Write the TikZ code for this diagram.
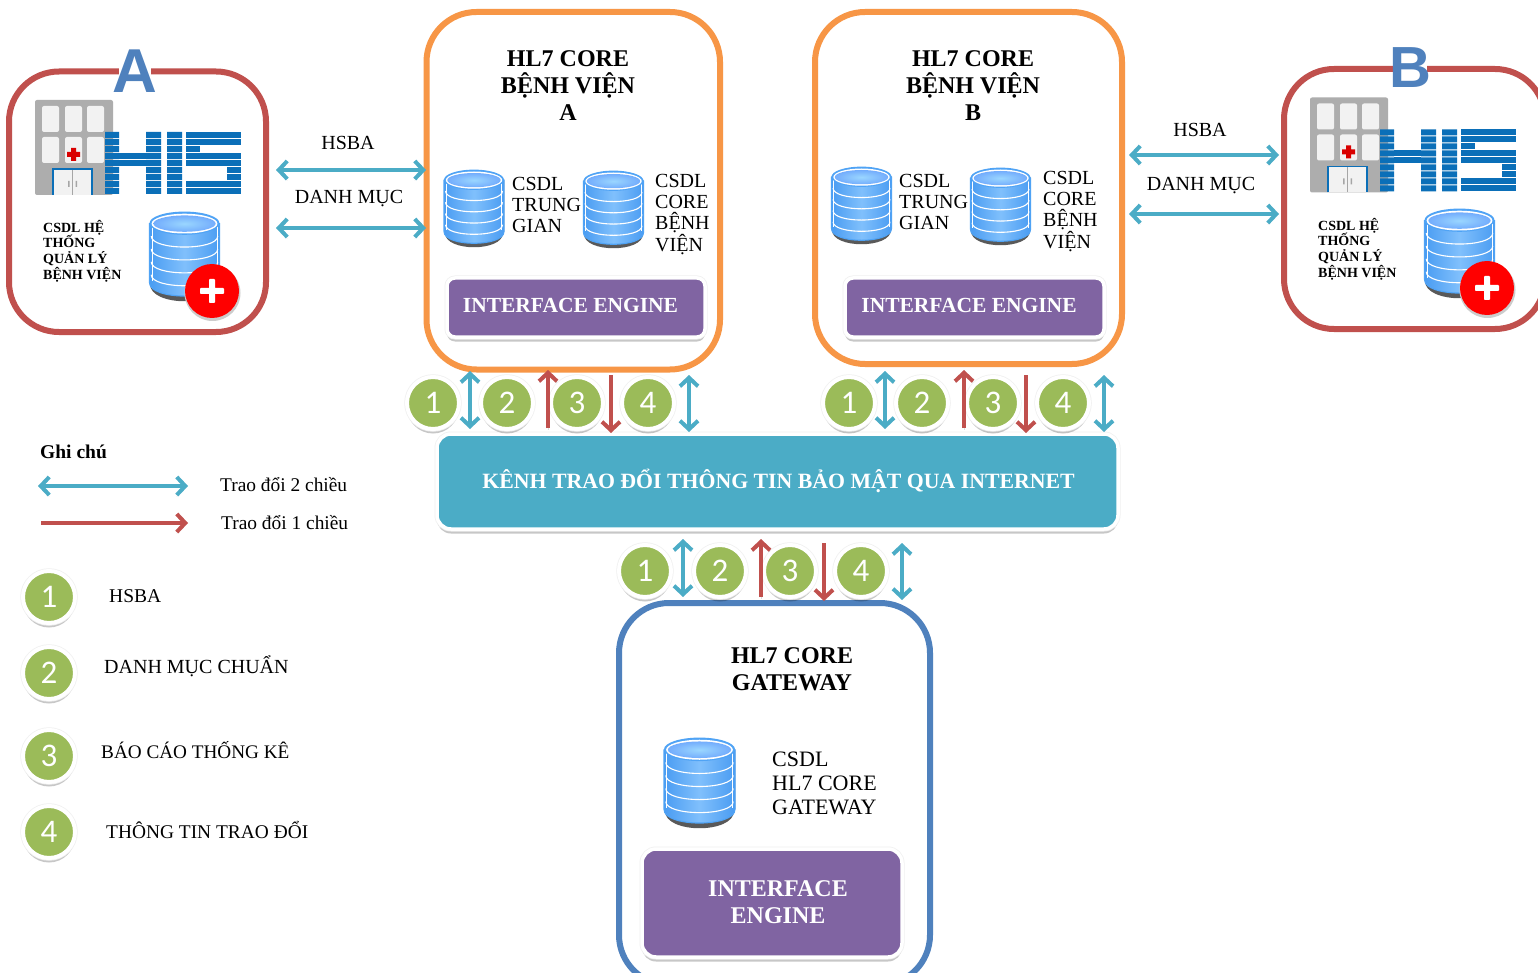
\documentclass[tikz,border=0pt]{standalone}
\usepackage{fontspec}
\setmainfont{Liberation Serif}
\newfontfamily\digitfont{Carlito}
\newfontfamily\letterfont{Liberation Sans}
\usetikzlibrary{arrows.meta,shadows}
\definecolor{frameRed}{HTML}{C0504D}
\definecolor{frameOrange}{HTML}{F79646}
\definecolor{frameBlue}{HTML}{4F81BD}
\definecolor{teal}{HTML}{4BACC6}
\definecolor{violet}{HTML}{8064A2}
\definecolor{olive}{HTML}{9BBB59}
\definecolor{hisBlue}{HTML}{0B6FB8}
\definecolor{dbRim}{HTML}{4FA3F5}
\definecolor{dbDark}{HTML}{4A9CF2}
\definecolor{dbLight}{HTML}{80C0FC}
\definecolor{dbTop}{HTML}{9AD6FF}
\newcommand{\fs}[2]{\fontsize{#1}{#2}\selectfont}
\tikzset{
  softshadow/.style={drop shadow={shadow xshift=0pt,shadow yshift=-4.5pt,fill=black,opacity=.22}},
  framebox/.style={draw=#1,line width=6pt,fill=white,rounded corners=50pt,inner sep=0pt},
  panel/.style={draw=white,line width=3.5pt,fill=#1,inner sep=0pt,softshadow,
    preaction={draw=black!6,line width=5pt}},
  badge/.style={circle,draw=white,line width=4pt,fill=olive,text=white,minimum size=52pt,inner sep=0pt,
    font=\digitfont\fs{33}{33},softshadow,preaction={draw=black!6,line width=5.5pt}},
  lbl/.style={inner sep=0pt,align=left,text=black},
  hdr/.style={inner sep=0pt,align=center,text=black,font=\bfseries\fs{24}{27}},
  ietext/.style={inner sep=0pt,align=center,text=white,font=\bfseries\fs{21.5}{27}},
  dbtext/.style={lbl,anchor=north west,font=\fs{20}{21.2}},
  hisnote/.style={lbl,anchor=north west,font=\bfseries\fs{14}{15.6}},
  plain/.style={inner sep=0pt,text=black,font=\fs{20}{22}},
  twoway/.style={draw=teal,line width=4pt,{Straight Barb[length=8.5pt,width=18pt]}-{Straight Barb[length=8.5pt,width=18pt]},
    preaction={draw=black,opacity=.13,transform canvas={yshift=-1.5pt}}},
  oneway/.style={draw=frameRed,line width=4pt,-{Straight Barb[length=8.5pt,width=18pt]},
    preaction={draw=black,opacity=.13,transform canvas={yshift=-1.5pt}}},
}
% database icon: centre x, top y, width, height
\newcommand{\dbicon}[4]{%
  \begin{scope}[shift={(#1,#2)},x=#3pt/2,y=-#4pt]
    \fill[black!65] (-.98,.84) .. controls (-.98,1.1) and (.98,1.1) .. (.98,.84) -- cycle;
    \fill[left color=dbDark,right color=dbDark,middle color=dbLight]
      (-1,.13) -- (-1,.82) .. controls (-1,1.03) and (1,1.03) .. (1,.82) -- (1,.13) -- cycle;
    \foreach \c in {.28,.43,.58,.73}
      \draw[white,line width=1.1pt] (-.95,\c) .. controls (-.95,\c+.17) and (.95,\c+.17) .. (.95,\c);
    \draw[dbRim,line width=1.1pt] (-1,.13) -- (-1,.82) .. controls (-1,1.03) and (1,1.03) .. (1,.82) -- (1,.13);
    \draw[white,line width=.9pt] (-.93,.16) -- (-.93,.8) (.93,.16) -- (.93,.8);
    \fill[dbRim] (0,.13) ellipse [x radius=1,y radius=.135];
    \fill[white] (0,.135) ellipse [x radius=.94,y radius=.115];
    \shade[inner color=dbTop,outer color=dbLight!90!blue] (0,.135) ellipse [x radius=.89,y radius=.095];
  \end{scope}}
% red medical badge
\newcommand{\redplus}[2]{%
  \begin{scope}[shift={(#1,#2)}]
    \fill[black!20] (.5,2) circle (28);
    \fill[red] (0,0) circle (27);
    \fill[white,rounded corners=.8pt] (-12,-3) rectangle (12,3) (-3,-12) rectangle (3,12);
  \end{scope}}
% HIS logo, drawn relative to the position of the A logo
\newcommand{\hislogo}[2]{%
  \begin{scope}[shift={(#1,#2)}]
    \fill[black!32,rounded corners=2pt] (35,100) rectangle (113,195);
    \foreach \wy in {106,137}
      \foreach \wx in {42,65,87}
        \fill[black!5,rounded corners=2pt] (\wx,\wy) rectangle +(17,26);
    \fill[black!5] (53,169) rectangle (92,195);
    \draw[hisBlue,line width=1.6pt] (53,195) -- (53,169) -- (92,169) -- (92,195);
    \draw[black!35,line width=1.2pt] (72.5,170) -- (72.5,195);
    \fill[black!35] (68,181) rectangle (69.5,187) (75.5,181) rectangle (77,187);
    \fill[red!85!black] (67,152) rectangle (80,157) (71,148) rectangle (76,161);
    \foreach \r in {0,...,8}{
      \pgfmathsetmacro{\ya}{132+7*\r}
      \fill[hisBlue] (105,\ya) rectangle (119,\ya+5.8)
                     (146,\ya) rectangle (161,\ya+5.8)
                     (167,\ya) rectangle (182,\ya+5.8);
    }
    \foreach \r in {3,4}{
      \pgfmathsetmacro{\ya}{132+7*\r}
      \fill[hisBlue] (119,\ya) rectangle (146,\ya+5.8);
    }
    \foreach \r in {0,1,3,4,7,8}{
      \pgfmathsetmacro{\ya}{132+7*\r}
      \fill[hisBlue] (186,\ya) rectangle (241,\ya+5.8);
    }
    \foreach \r in {2}{
      \pgfmathsetmacro{\ya}{132+7*\r}
      \fill[hisBlue] (186,\ya) rectangle (200,\ya+5.8);
    }
    \foreach \r in {5,6}{
      \pgfmathsetmacro{\ya}{132+7*\r}
      \fill[hisBlue] (227,\ya) rectangle (241,\ya+5.8);
    }
  \end{scope}}
\begin{document}
\begin{tikzpicture}[x=1pt,y=-1pt]
\useasboundingbox (0,0) rectangle (1538,973);
\clip (0,0) rectangle (1538,973);
\fill[white] (0,0) rectangle (1538,973);

% frames
\node[framebox=frameRed,minimum width=257pt,minimum height=260.5pt] (hisA) at (137.5,201.75) {};
\node[framebox=frameOrange,minimum width=293.5pt,minimum height=357.5pt] (coreA) at (573.25,190.75) {};
\node[framebox=frameOrange,minimum width=307pt,minimum height=352pt] (coreB) at (968.5,188) {};
\node[framebox=frameRed,minimum width=261pt,minimum height=260pt] (hisB) at (1414.5,199) {};
\node[framebox=frameBlue,minimum width=311pt,minimum height=382pt] (coreG) at (774.5,794) {};

% logo letters
\fill[white] (119,66) rectangle (151,77);
\fill[white] (1393,64) rectangle (1427,75);
\node[inner sep=0pt,text=frameBlue,font=\letterfont\bfseries\fs{62}{62}] (letterA) at (135,71) {A};
\node[inner sep=0pt,text=frameBlue,font=\letterfont\bfseries\fs{58}{58}] (letterB) at (1410,68) {B};

% HIS logos and databases
\hislogo{0}{0}
\hislogo{1275}{-2.5}
\dbicon{184.5}{212}{70}{86}
\dbicon{1459.5}{209}{70}{86}
\redplus{212}{291}
\redplus{1487}{288}
\dbicon{474}{170}{60}{75}
\dbicon{613.5}{171}{60}{75}
\dbicon{861.5}{167}{60}{75}
\dbicon{1000.5}{168}{60}{75}
\dbicon{699.5}{738}{71}{87}

% channel and engines
\node[panel=teal,rounded corners=14pt,minimum width=681pt,minimum height=95pt] (chan) at (777.5,481.5) {};
\node[panel=violet,rounded corners=8pt,minimum width=258pt,minimum height=59pt] (ieA) at (576,307.5) {};
\node[panel=violet,rounded corners=8pt,minimum width=259pt,minimum height=59pt] (ieB) at (974.5,307.5) {};
\node[panel=violet,rounded corners=14pt,minimum width=260pt,minimum height=108pt] (ieG) at (772,903) {};

\node[ietext] (ieAt) at (570.5,305) {INTERFACE ENGINE};
\node[ietext] (ieBt) at (969,305) {INTERFACE ENGINE};
\node[ietext,font=\bfseries\fs{24}{27}] (ieGt) at (778,902) {INTERFACE\\ENGINE};
\node[inner sep=0pt,text=white,font=\bfseries\fs{21.8}{24}] (chant) at (778.5,481) {KÊNH TRAO ĐỔI THÔNG TIN BẢO MẬT QUA INTERNET};

% headers
\node[hdr] (hA) at (568,86) {HL7 CORE\\BỆNH VIỆN\\A};
\node[hdr] (hB) at (973,86) {HL7 CORE\\BỆNH VIỆN\\B};
\node[hdr] (hG) at (792,669) {HL7 CORE\\GATEWAY};

% database labels
\node[dbtext] (t1) at (512,177) {CSDL\\TRUNG\\GIAN};
\node[dbtext] (t2) at (655,174) {CSDL\\CORE\\BỆNH\\VIỆN};
\node[dbtext] (t3) at (899,174) {CSDL\\TRUNG\\GIAN};
\node[dbtext] (t4) at (1043,171) {CSDL\\CORE\\BỆNH\\VIỆN};
\node[lbl,anchor=north west,font=\fs{22}{24}] (t5) at (772,752) {CSDL\\HL7 CORE\\GATEWAY};
\node[hisnote] (n1) at (43,220) {CSDL HỆ\\THỐNG\\QUẢN LÝ\\BỆNH VIỆN};
\node[hisnote] (n2) at (1318,218) {CSDL HỆ\\THỐNG\\QUẢN LÝ\\BỆNH VIỆN};

% side labels
\node[plain] (s1) at (348,142.5) {HSBA};
\node[plain] (s2) at (349,199) {DANH MỤC};
\node[plain] (s3) at (1200,129.5) {HSBA};
\node[plain] (s4) at (1201,186) {DANH MỤC};

% side connectors
\coordinate (a1l) at (276,170); \coordinate (a1r) at (426,170);
\coordinate (a2l) at (276,228); \coordinate (a2r) at (426,228);
\coordinate (b1l) at (1129,155); \coordinate (b1r) at (1279,155);
\coordinate (b2l) at (1129,214); \coordinate (b2r) at (1279,214);
\draw[twoway] (a1l) -- (a1r);
\draw[twoway] (a2l) -- (a2r);
\draw[twoway] (b1l) -- (b1r);
\draw[twoway] (b2l) -- (b2r);

% badges
\node[badge] (ba1) at (433,403) {1};
\node[badge] (ba2) at (507,403) {2};
\node[badge] (ba3) at (577,403) {3};
\node[badge] (ba4) at (648,403) {4};
\node[badge] (bb1) at (849,403) {1};
\node[badge] (bb2) at (922,403) {2};
\node[badge] (bb3) at (993,403) {3};
\node[badge] (bb4) at (1063,403) {4};
\node[badge] (bg1) at (645,571) {1};
\node[badge] (bg2) at (720,571) {2};
\node[badge] (bg3) at (790,571) {3};
\node[badge] (bg4) at (861,571) {4};
\node[badge] (bl1) at (49,597) {1};
\node[badge] (bl2) at (49,673) {2};
\node[badge] (bl3) at (49,756) {3};
\node[badge] (bl4) at (49,832) {4};

% vertical connectors
\coordinate (v1t) at (470,371); \coordinate (v1b) at (470,429);
\coordinate (v2b) at (548,428); \coordinate (v2t) at (548,370);
\coordinate (v3t) at (611,375); \coordinate (v3b) at (611,433);
\coordinate (v4t) at (689,375); \coordinate (v4b) at (689,432);
\coordinate (v5t) at (885,371); \coordinate (v5b) at (885,429);
\coordinate (v6b) at (964,428); \coordinate (v6t) at (964,370);
\coordinate (v7t) at (1026,375); \coordinate (v7b) at (1026,433);
\coordinate (v8t) at (1104,375); \coordinate (v8b) at (1104,432);
\coordinate (v9t) at (683,539); \coordinate (v9b) at (683,597);
\coordinate (v10b) at (761,597); \coordinate (v10t) at (761,539);
\coordinate (v11t) at (824,543); \coordinate (v11b) at (824,601);
\coordinate (v12t) at (902,543); \coordinate (v12b) at (902,600);
\draw[twoway] (v1t) -- (v1b);
\draw[oneway] (v2b) -- (v2t);
\draw[oneway] (v3t) -- (v3b);
\draw[twoway] (v4t) -- (v4b);
\draw[twoway] (v5t) -- (v5b);
\draw[oneway] (v6b) -- (v6t);
\draw[oneway] (v7t) -- (v7b);
\draw[twoway] (v8t) -- (v8b);
\draw[twoway] (v9t) -- (v9b);
\draw[oneway] (v10b) -- (v10t);
\draw[oneway] (v11t) -- (v11b);
\draw[twoway] (v12t) -- (v12b);

% legend
\node[lbl,anchor=west,font=\bfseries\fs{19.5}{20}] (g0) at (40,452) {Ghi chú};
\coordinate (g1l) at (38,486); \coordinate (g1r) at (188,486);
\coordinate (g2l) at (41,523); \coordinate (g2r) at (188,523);
\draw[twoway] (g1l) -- (g1r);
\draw[oneway] (g2l) -- (g2r);
\node[lbl,anchor=west,font=\fs{19.4}{20}] (g1) at (220,485) {Trao đổi 2 chiều};
\node[lbl,anchor=west,font=\fs{19.4}{20}] (g2) at (221,523) {Trao đổi 1 chiều};
\node[lbl,anchor=west,font=\fs{19.5}{22}] (l1) at (109,596) {HSBA};
\node[lbl,anchor=west,font=\fs{20}{22}] (l2) at (104,666) {DANH MỤC CHUẨN};
\node[lbl,anchor=west,font=\fs{19.2}{22}] (l3) at (101,750) {BÁO CÁO THỐNG KÊ};
\node[lbl,anchor=west,font=\fs{19.4}{22}] (l4) at (106,830) {THÔNG TIN TRAO ĐỔI};
\end{tikzpicture}
\end{document}
